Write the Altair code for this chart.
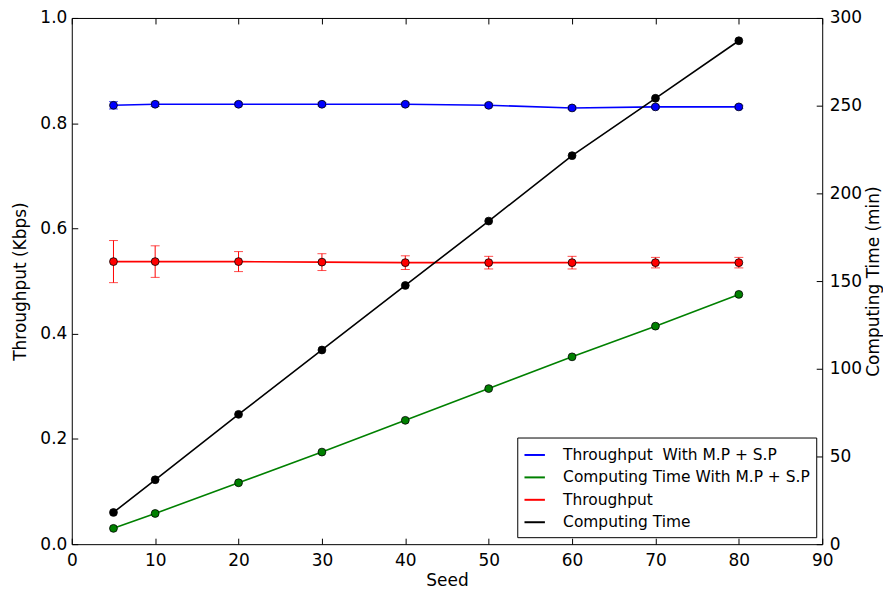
import altair as alt
import pandas as pd

seeds = [5, 10, 20, 30, 40, 50, 60, 70, 80]
thr_mpsp = [0.834, 0.836, 0.836, 0.836, 0.836, 0.834, 0.829, 0.831, 0.831]
thr_mpsp_err = [0.007, 0.004, 0.003, 0.003, 0.003, 0.003, 0.003, 0.003, 0.003]
thr = [0.537, 0.537, 0.537, 0.536, 0.535, 0.535, 0.535, 0.535, 0.535]
thr_err = [0.040, 0.030, 0.019, 0.016, 0.013, 0.012, 0.012, 0.010, 0.010]
ct_mpsp = [9.0, 17.5, 35.0, 52.5, 70.6, 88.7, 106.8, 124.3, 142.4]
ct = [18.1, 36.7, 74.0, 110.7, 147.5, 184.2, 221.5, 254.2, 287.0]

names = ["Throughput\u00a0 With M.P + S.P", "Computing Time With M.P + S.P", "Throughput", "Computing Time"]
colors = ["#0000ff", "#008000", "#ff0000", "#000000"]

FONT = "DejaVu Sans"

def frame(vals, name, errs=None):
    d = pd.DataFrame({"seed": seeds, "v": vals, "series": name})
    if errs is not None:
        d["lo"] = [a - b for a, b in zip(vals, errs)]
        d["hi"] = [a + b for a, b in zip(vals, errs)]
    return d

d_blue = frame(thr_mpsp, names[0], thr_mpsp_err)
d_green = frame(ct_mpsp, names[1])
d_red = frame(thr, names[2], thr_err)
d_black = frame(ct, names[3])

xscale = alt.Scale(domain=[0, 90], nice=False)
x_bottom_axis = alt.Axis(values=list(range(0, 91, 10)), title="Seed", format="d",
                         offset=-6, tickSize=6, domain=False, grid=False, labelFlush=False,
                         labelPadding=8, titlePadding=4)
x_top_axis = alt.Axis(orient="top", values=list(range(0, 91, 10)), labels=False, title=None,
                      offset=-6, tickSize=6, domain=False, grid=False)

left_axis = alt.Axis(values=[0, 0.2, 0.4, 0.6, 0.8, 1.0], format=".1f", title="Throughput (Kbps)",
                     offset=-6, tickSize=6, domain=False, grid=False, labelFlush=False,
                     labelPadding=5, titlePadding=10)
right_axis = alt.Axis(orient="right", values=[0, 50, 100, 150, 200, 250, 300], format="d",
                      title="Computing Time (min)", offset=-6, tickSize=6, domain=False, grid=False,
                      labelFlush=False, labelPadding=7, titlePadding=21, titleAngle=270)

xl = alt.X("seed:Q", scale=xscale, axis=x_bottom_axis)
xr = alt.X("seed:Q", scale=xscale, axis=None)
yl = lambda f: alt.Y(f"{f}:Q", scale=alt.Scale(domain=[0, 1.0], nice=False), axis=left_axis)
yr = lambda f: alt.Y(f"{f}:Q", scale=alt.Scale(domain=[0, 300], nice=False), axis=right_axis)

color = alt.Color("series:N", scale=alt.Scale(domain=names, range=colors),
                  legend=alt.Legend(title=None, orient="none", legendX=447, legendY=421,
                                    symbolType="stroke", symbolSize=420, symbolStrokeWidth=2,
                                    labelFontSize=15.5, labelFont=FONT, labelColor="black",
                                    rowPadding=2.5, labelOffset=17,
                                    strokeColor="black", fillColor="white", padding=6,
                                    labelLimit=400))

def series_layers(d, x, y, col, errs):
    layers = []
    if errs:
        layers.append(alt.Chart(d).mark_rule(color=col, strokeWidth=1).encode(
            x=x, y=y("lo"), y2="hi:Q"))
        for f in ["lo", "hi"]:
            layers.append(alt.Chart(d).mark_tick(color=col, orient="horizontal", size=9, thickness=1).encode(
                x=x, y=y(f)))
    layers.append(alt.Chart(d).mark_line(strokeWidth=1.6).encode(
        x=x, y=y("v"), color=color))
    layers.append(alt.Chart(d).mark_point(filled=True, fill=col, stroke="black", strokeWidth=0.8,
                                          size=62, shape="circle", opacity=1).encode(
        x=x, y=y("v")))
    return layers

left = alt.layer(*series_layers(d_blue, xl, yl, colors[0], True),
                 *series_layers(d_red, xl, yl, colors[2], True))
right = alt.layer(*series_layers(d_black, xr, yr, colors[3], False),
                  *series_layers(d_green, xr, yr, colors[1], False))
top_layer = alt.Chart(d_blue).mark_point(opacity=0).encode(
    x=alt.X("seed:Q", scale=xscale, axis=x_top_axis),
    y=alt.Y("v:Q", scale=alt.Scale(domain=[0, 1.0], nice=False), axis=None))

chart = alt.layer(left, right, top_layer).resolve_scale(y="independent").resolve_axis(
    x="independent").properties(
    width=753, height=528,
    autosize=alt.AutoSizeParams(type="none"),
    padding={"left": 64, "top": 9, "right": 61, "bottom": 45},
    background="white",
).configure_view(stroke="black", strokeWidth=1).configure_axis(
    labelFont=FONT, titleFont=FONT, labelFontSize=17, titleFontSize=17,
    labelColor="black", titleColor="black", tickColor="black", titleFontWeight="normal",
)

chart.save("out.html", embed_options={"renderer": "svg", "actions": False})
